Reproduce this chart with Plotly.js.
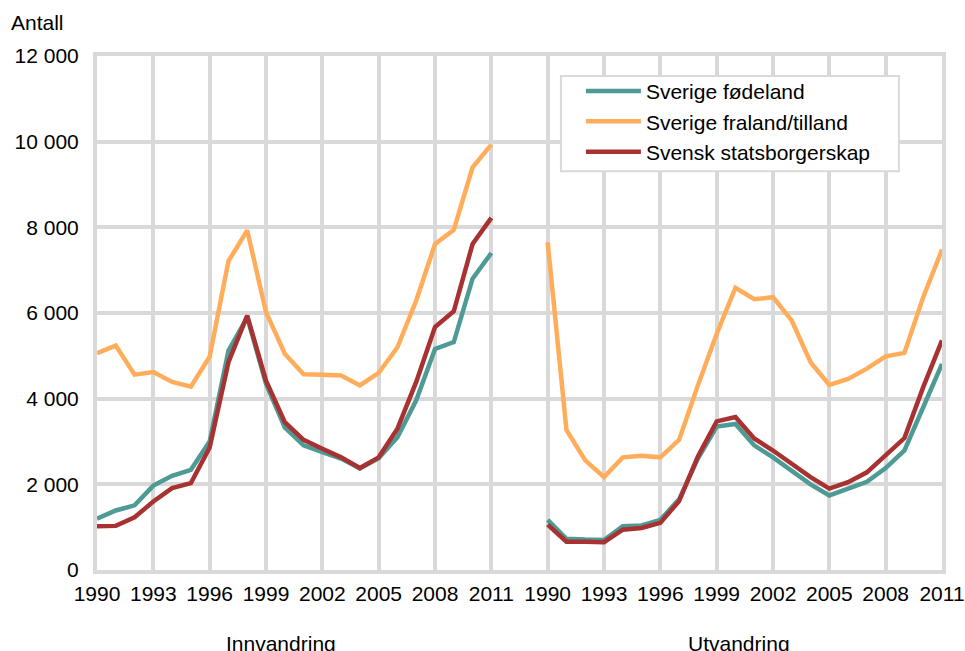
<!DOCTYPE html>
<html>
<head>
<meta charset="utf-8">
<script src="https://cdn.plot.ly/plotly-3.0.1.min.js"></script>
<style>html,body{margin:0;padding:0;background:#fff;}#chart{width:965px;height:651px;}</style>
</head>
<body>
<div id="chart"></div>
<script>
const years = [1990,1991,1992,1993,1994,1995,1996,1997,1998,1999,2000,2001,2002,2003,2004,2005,2006,2007,2008,2009,2010,2011];

const seriesNames = ['Sverige fødeland', 'Sverige fraland/tilland', 'Svensk statsborgerskap'];
const panelNames = ['Innvandring', 'Utvandring'];

// Innvandring
const innFodeland   = [1200,1390,1510,1970,2200,2340,3000,5120,5900,4350,3330,2910,2750,2600,2370,2610,3100,3960,5160,5320,6800,7400];
const innFraland    = [5060,5240,4560,4620,4390,4280,4980,7210,7930,6020,5050,4570,4560,4540,4310,4600,5200,6290,7610,7940,9400,9930];
const innStatsborg  = [1020,1030,1230,1600,1910,2030,2860,4850,5940,4420,3450,3040,2830,2630,2380,2630,3300,4390,5670,6040,7610,8220];

// Utvandring
const utFodeland    = [1170, 730, 710, 700,1020,1040,1170,1650,2600,3350,3410,2910,2630,2330,2000,1740,1900,2060,2380,2790,3800,4810];
const utFraland     = [7650,3270,2560,2170,2630,2670,2630,3040,4310,5510,6590,6320,6370,5820,4850,4320,4460,4700,4990,5070,6370,7480];
const utStatsborg   = [1060, 660, 660, 650, 940, 980,1100,1610,2650,3470,3570,3070,2790,2480,2170,1900,2050,2280,2670,3080,4270,5360];

const yTicks = [0,2000,4000,6000,8000,10000,12000];
const colors = ['#4e9a94', '#ffad5b', '#a83131'];

// x positions: left panel indexes 0..21, two empty slots, right panel 24..45
const gap = 2;
const xLeft  = years.map(y => y - years[0]);
const xRight = years.map(y => y - years[0] + years.length + gap);
const tickStep = 3;
const tickvals = [], ticktext = [];
[xLeft, xRight].forEach(xs => {
  xs.forEach((x, i) => { if (i % tickStep === 0) { tickvals.push(x); ticktext.push(String(years[i])); } });
});

const leftData = [innFodeland, innFraland, innStatsborg];
const rightData = [utFodeland, utFraland, utStatsborg];
const order = [1, 0, 2]; // draw order: orange underneath
const traces = [];
order.forEach(k => {
  traces.push({x: xLeft, y: leftData[k], type: 'scatter', mode: 'lines', name: seriesNames[k],
    line: {color: colors[k], width: 4.5}, showlegend: true, legendrank: k + 1, hoverinfo: 'skip'});
});
order.forEach(k => {
  traces.push({x: xRight, y: rightData[k], type: 'scatter', mode: 'lines', name: seriesNames[k],
    line: {color: colors[k], width: 4.5}, showlegend: false, hoverinfo: 'skip'});
});

const font = {family: 'Liberation Sans, Arial, sans-serif', size: 21, color: '#000'};
const grid = '#d9d9d9';
const layout = {
  width: 965, height: 651,
  margin: {l: 97, r: 23, t: 56, b: 81},
  paper_bgcolor: '#fff', plot_bgcolor: '#fff',
  font: font,
  separators: ', ',
  showlegend: true,
  xaxis: {
    range: [0, xRight[xRight.length - 1]],
    tickmode: 'array', tickvals: tickvals, ticktext: ticktext,
    showgrid: true, gridcolor: grid, gridwidth: 4,
    zeroline: false, showline: true, mirror: true, linecolor: grid, linewidth: 4,
    ticks: '', ticklabelstandoff: 2,
    tickfont: font, fixedrange: true
  },
  yaxis: {
    range: [0, 12000],
    tickmode: 'array', tickvals: yTicks, tickformat: ',d',
    showgrid: true, gridcolor: grid, gridwidth: 4,
    zeroline: false, showline: true, mirror: true, linecolor: grid, linewidth: 4,
    ticks: '', ticklabelstandoff: 10,
    tickfont: font, fixedrange: true
  },
  legend: {
    x: 0.549, y: 0.971, xanchor: 'left', yanchor: 'top',
    bgcolor: 'rgba(0,0,0,0)', borderwidth: 0,
    font: font, itemwidth: 55, indentation: 20, traceorder: 'normal'
  },
  shapes: [
    {type: 'rect', xref: 'paper', yref: 'paper', x0: 0.549, x1: 0.949, y0: 0.776, y1: 0.961,
     fillcolor: '#fff', line: {color: grid, width: 2}, layer: 'above'}
  ],
  annotations: [
    {text: 'Antall', xref: 'paper', yref: 'paper', x: -0.104, y: 1.066, xanchor: 'left', yanchor: 'middle', showarrow: false, font: font},
    {text: panelNames[0], xref: 'x', yref: 'paper', x: 9.8, y: -0.117, xanchor: 'center', yanchor: 'top', showarrow: false, font: font},
    {text: panelNames[1], xref: 'x', yref: 'paper', x: 34.2, y: -0.117, xanchor: 'center', yanchor: 'top', showarrow: false, font: font}
  ]
};

Plotly.newPlot('chart', traces, layout, {displayModeBar: false, staticPlot: true});
</script>
</body>
</html>
